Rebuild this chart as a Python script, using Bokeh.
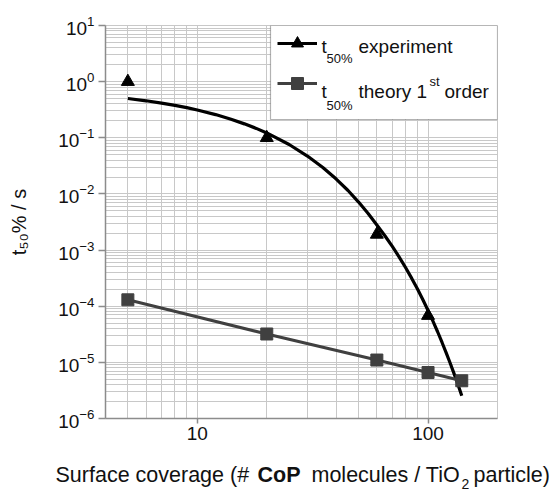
from bokeh.plotting import figure
from bokeh.layouts import column, row
from bokeh.models import (Label, BoxAnnotation, Legend, LegendItem, FixedTicker,
                          PrintfTickFormatter, Range1d, LinearAxis)
from bokeh.core.properties import value
from bokeh.embed import file_html
from bokeh.resources import INLINE

# ---------------- data ----------------
coverage_exp = [5, 20, 60, 100]
t50_exp = [1.0, 0.1, 1.9e-3, 6.8e-5]

coverage_theory = [5, 20, 60, 100, 140]
t50_theory = [1.3e-4, 3.2e-5, 1.1e-5, 6.6e-6, 4.7e-6]

fit_coverage = [5, 6, 7, 8, 9, 10, 12, 14, 16, 18, 20, 25, 30, 35, 40, 45, 50, 55,
                60, 65, 70, 75, 80, 85, 90, 95, 100, 105, 110, 115, 120, 125, 130,
                135, 140]
fit_t50 = [0.501, 0.456, 0.415, 0.378, 0.344, 0.313, 0.259, 0.214, 0.177, 0.147,
           0.122, 0.0759, 0.0473, 0.0295, 0.0184, 0.0115, 0.00716, 0.00447,
           0.00279, 0.00180, 0.00116, 7.50e-4, 4.84e-4, 3.13e-4, 2.02e-4, 1.30e-4,
           8.41e-5, 5.43e-5, 3.51e-5, 2.26e-5, 1.46e-5, 9.44e-6, 6.10e-6, 3.94e-6,
           2.54e-6]

x_major = [10, 100]
x_minor = [4, 5, 6, 7, 8, 9, 20, 30, 40, 50, 60, 70, 80, 90, 200]
y_major = [1e-6, 1e-5, 1e-4, 1e-3, 1e-2, 1e-1, 1e0, 1e1]
y_minor = [m * 10.0 ** k for k in range(-6, 1) for m in range(2, 10)]

y_title = "t\u2085\u2080% / s"

FONT = "Liberation Sans"
GRID = "#c8c8c8"
AXIS = "#8c8c8c"
TXT = "#111111"
DESC = 0.212   # font descent as a fraction of the size (bottom -> baseline)

YW = 46        # width of the strip holding the y title
MAIN_H = 450   # height of the main plot
XH = 42        # height of the strip holding the x title

p = figure(width=552 - YW, height=MAIN_H, x_axis_type="log", y_axis_type="log",
           x_range=(4, 200), y_range=(1e-6, 10),
           output_backend="svg", toolbar_location=None,
           min_border_left=105 - YW, min_border_right=55,
           min_border_top=25, min_border_bottom=MAIN_H - 418)
p.background_fill_color = "white"
p.border_fill_color = "white"
p.outline_line_color = GRID

# grids
p.xgrid.ticker = FixedTicker(ticks=x_major, minor_ticks=x_minor)
p.ygrid.ticker = FixedTicker(ticks=y_major, minor_ticks=y_minor)
for g in (p.xgrid, p.ygrid):
    g.grid_line_color = GRID
    g.grid_line_width = 1
    g.minor_grid_line_color = GRID
    g.minor_grid_line_width = 1

# axes
p.xaxis.ticker = FixedTicker(ticks=x_major)
p.xaxis.formatter = PrintfTickFormatter(format="%d")
p.yaxis.ticker = FixedTicker(ticks=y_major)
for ax in (p.xaxis, p.yaxis):
    ax.axis_line_color = AXIS
    ax.axis_line_width = 1.5
    ax.major_tick_line_color = AXIS
    ax.major_tick_line_width = 1.5
    ax.minor_tick_line_color = None
    ax.major_tick_in = 0
    ax.major_label_text_font = FONT
    ax.major_label_text_font_size = "19px"
    ax.major_label_text_color = TXT
p.xaxis.major_tick_out = 5
p.yaxis.major_tick_out = 7
p.xaxis.major_label_standoff = 3
p.yaxis.major_label_standoff = 4

# series
fit_r = p.line(fit_coverage, fit_t50, line_color="black", line_width=3.2)
exp_r = p.scatter(coverage_exp, t50_exp, marker="triangle", size=13,
                  fill_color="black", line_color="black")
th_line = p.line(coverage_theory, t50_theory, line_color="#404040", line_width=3)
th_pts = p.scatter(coverage_theory, t50_theory, marker="square", size=12,
                   fill_color="#404040", line_color="#404040")

# legend box and samples (frame-relative screen units)
box = BoxAnnotation(left=165, right=392, top=393, bottom=299,
                    left_units="screen", right_units="screen",
                    top_units="screen", bottom_units="screen",
                    fill_color="white", fill_alpha=1.0,
                    line_color="black", line_width=1.2)
p.add_layout(box)

legend = Legend(items=[LegendItem(label=value(""), renderers=[fit_r, exp_r]),
                       LegendItem(label=value(""), renderers=[th_line, th_pts])],
                location=(172, 320), margin=0, padding=0, spacing=10,
                glyph_width=40, glyph_height=30, label_height=30,
                label_width=0, label_standoff=0,
                border_line_color=None, background_fill_alpha=0)
p.add_layout(legend)


def lab(x, base_y, text, size):
    """Label in the main frame; base_y = baseline in canvas px from the top."""
    y = 418 - (base_y + DESC * size)
    p.add_layout(Label(x=x - 105, y=y, x_units="screen", y_units="screen", text=text,
                       text_font=FONT, text_font_size=f"{size}px",
                       text_color=TXT, text_baseline="bottom", text_align="left"))


# legend texts
lab(321, 52, "t", 19)
lab(326, 63, "50%", 13)
lab(358, 52, "experiment", 19)
lab(321, 97, "t", 19)
lab(326, 110, "50%", 13)
lab(358, 97, "theory 1", 19)
lab(429, 86, "st", 13)
lab(444, 97, "order", 19)


def blank(w, h, left=0):
    f = figure(width=w, height=h, x_range=Range1d(0, w), y_range=Range1d(0, h),
               output_backend="svg", toolbar_location=None,
               x_axis_location=None, y_axis_location=None,
               min_border=0, min_border_left=left, outline_line_color=None)
    f.grid.visible = False
    f.background_fill_color = "white"
    f.border_fill_color = "white"
    return f


# y axis title: the (rotated) label of an empty axis in a tall strip on the left
yf = blank(YW, MAIN_H, left=34)
yax = LinearAxis(ticker=FixedTicker(ticks=[-1000]), axis_label=y_title,
                 axis_label_standoff=5, axis_label_text_font=FONT,
                 axis_label_text_font_size="20px",
                 axis_label_text_font_style="normal",
                 axis_label_text_color=TXT, axis_line_color=None,
                 major_tick_line_color=None, minor_tick_line_color=None,
                 major_tick_in=0, major_tick_out=0, major_label_standoff=0,
                 major_label_text_font_size="12px")
yf.add_layout(yax, "left")


def txt(fig, x, y, text, size, bold=False):
    fig.text(x=[x], y=[y], text=[text], text_font=value(FONT),
             text_font_size=value(f"{size}px"),
             text_font_style="bold" if bold else "normal",
             text_color=TXT, text_baseline="bottom", text_align="left")


# x axis title, in its own strip below
xf = blank(552, XH)
TOP = 450
txt(xf, 55, XH - (482 - TOP + DESC * 21.5), "Surface coverage (# ", 21.5)
txt(xf, 257, XH - (482 - TOP + DESC * 21.5), "CoP", 21.5, bold=True)
txt(xf, 311, XH - (482 - TOP + DESC * 21.5), "molecules / TiO", 21.5)
txt(xf, 461, XH - (485.5 - TOP + DESC * 14), "2", 14)
txt(xf, 473, XH - (482 - TOP + DESC * 21.5), "particle)", 21.5)

layout = column(row(yf, p, spacing=0), xf, spacing=0)
open("out.html", "w").write(file_html(layout, INLINE))
